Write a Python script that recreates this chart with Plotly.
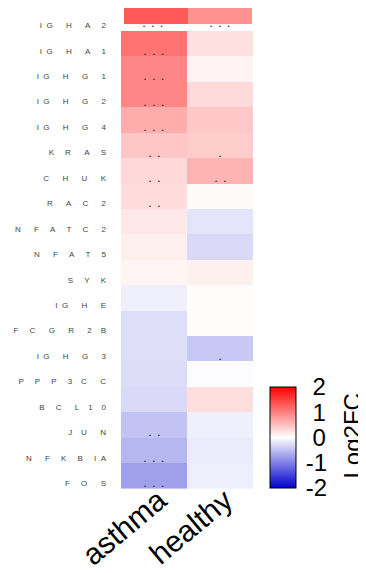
import plotly.graph_objects as go

# page is offset by the default 8px body margin; figure spans the rest
OFF = 8
W, H = 366 - OFF, 573 - OFF

genes = ["IGHA2", "IGHA1", "IGHG1", "IGHG2", "IGHG4", "KRAS", "CHUK", "RAC2",
         "NFATC2", "NFAT5", "SYK", "IGHE", "FCGR2B", "IGHG3", "PPP3CC", "BCL10",
         "JUN", "NFKBIA", "FOS"]
groups = ["asthma", "healthy"]

asthma_lfc = [1.3, 1.1, 0.95, 0.95, 0.65, 0.45, 0.3, 0.28, 0.18, 0.12, 0.08,
              -0.12, -0.26, -0.26, -0.27, -0.29, -0.47, -0.57, -0.75]
healthy_lfc = [0.86, 0.24, 0.1, 0.29, 0.43, 0.4, 0.59, 0.04, -0.21, -0.29, 0.12,
               0.02, 0.02, -0.43, -0.02, 0.26, -0.12, -0.16, -0.13]
asthma_sig = ["***", "***", "***", "***", "***", "**", "**", "**", "", "", "",
              "", "", "", "", "", "**", "***", "***"]
healthy_sig = ["***", "", "", "", "", "*", "**", "", "", "", "",
               "", "", "*", "", "", "", "", ""]

cb_ticks = [2, 1, 0, -1, -2]
cb_title = "Log2FC"

colorscale = [[0.0, "#0000CD"], [0.5, "#FFFFFF"], [1.0, "#FF0000"]]

# letter-spaced labels (glyph advance widths of Arial, em units)
adv = {"I": 0.278, "G": 0.778, "H": 0.722, "A": 0.667, "K": 0.667, "R": 0.722,
       "S": 0.667, "C": 0.722, "U": 0.722, "N": 0.722, "F": 0.611, "T": 0.611,
       "Y": 0.667, "E": 0.667, "B": 0.667, "P": 0.667, "L": 0.556, "O": 0.778,
       "J": 0.5}
def spaced(name):
    out = ""
    for i, ch in enumerate(name):
        out += ch
        if i < len(name) - 1:
            a = adv.get(ch, 0.556)
            n = max(1, round(a * 17.5 / 2.22))
            out += "\u00a0" * n
    return out

def px_x(p):
    return (p - OFF) / W

def px_y(p):
    return min(1.0, max(0.0, 1 - (p - OFF) / H))

row_h = (489 - 31) / 18.0
top_main = 489 - 19 * row_h
cut = max(0.0, (OFF - top_main) / row_h)
n = len(genes)

z_main = []
for i in range(n):
    if i == 0:
        z_main.append([None, None])
    else:
        z_main.append([asthma_lfc[i], healthy_lfc[i]])

CB_L, CB_R, CB_T, CB_B = 270, 296, 387, 488
FONT = "Liberation Sans, Arial"

fig = go.Figure()
fig.add_trace(go.Heatmap(
    z=z_main, x=groups, y=genes, zmin=-2, zmax=2, colorscale=colorscale,
    xgap=0, ygap=0, hoverinfo="skip",
    colorbar=dict(
        x=px_x(CB_L), xanchor="left", xpad=0,
        y=px_y(CB_B), yanchor="bottom", ypad=0,
        thickness=CB_R - CB_L, thicknessmode="pixels",
        len=CB_B - CB_T, lenmode="pixels",
        outlinecolor="black", outlinewidth=1,
        tickvals=cb_ticks, ticktext=[("\u00a0" if t >= 0 else "") + str(t) for t in cb_ticks],
        ticks="outside", ticklen=5, tickcolor="rgba(0,0,0,0)",
        tickfont=dict(family=FONT, size=24, color="black"),
    ),
))
# first row (rendered slightly offset as in the original)
fig.add_trace(go.Heatmap(
    z=[[asthma_lfc[0], healthy_lfc[0]]], x=groups, y=[genes[0]], zmin=-2, zmax=2,
    colorscale=colorscale, showscale=False, xaxis="x2", yaxis="y2", hoverinfo="skip",
))

annotations = []
for i, g in enumerate(genes):
    for j, sig in enumerate([asthma_sig[i], healthy_sig[i]]):
        if not sig:
            continue
        txt = ("\u00a0" * 4).join(["\u2022"] * len(sig))
        if i == 0:
            xr, yr = "x2", "y2"
        else:
            xr, yr = "x", "y"
        annotations.append(dict(
            x=groups[j], y=g, xref=xr, yref=yr, text=txt, showarrow=False,
            yshift=-10, xshift=(-3 if (i == 0 and j == 0) else 0),
            font=dict(family=FONT, size=6, color="#333333"),
        ))

# colour bar title
annotations.append(dict(
    x=px_x(352), y=px_y((CB_T + CB_B) / 2.0 - 1), xref="paper", yref="paper",
    xanchor="center", yanchor="middle", text=cb_title, textangle=-90,
    showarrow=False, font=dict(family=FONT, size=24, color="black"),
))

# inner tick marks on both sides of the colour bar
shapes = []
for t in cb_ticks[1:-1]:
    yp = CB_T + (2 - t) / 4.0 * (CB_B - CB_T)
    for x0, x1 in [(CB_L, CB_L + 6), (CB_R - 6, CB_R)]:
        shapes.append(dict(type="line", xref="paper", yref="paper",
                           x0=px_x(x0), x1=px_x(x1), y0=px_y(yp), y1=px_y(yp),
                           line=dict(color="#333333", width=1.2)))

fig.update_layout(
    width=W, height=H, autosize=False,
    margin=dict(l=0, r=0, t=0, b=0),
    paper_bgcolor="white", plot_bgcolor="white",
    xaxis=dict(domain=[px_x(121), px_x(253)], showgrid=False, zeroline=False,
               showline=False, ticks="", tickangle=-40, automargin=False,
               ticklabelshift=5, ticklabelstandoff=-13,
               tickfont=dict(family=FONT, size=30, color="black")),
    yaxis=dict(domain=[px_y(489), px_y(top_main)], range=[n - 0.5, -0.5 + cut],
               showgrid=False, zeroline=False, showline=False, ticks="",
               automargin=False, tickvals=genes, ticktext=[spaced(g) for g in genes],
               ticklabelshift=-7, ticklabelstandoff=14,
               tickfont=dict(family=FONT, size=8, color="#444444")),
    xaxis2=dict(domain=[px_x(124), px_x(252)], anchor="y2", visible=False),
    yaxis2=dict(domain=[px_y(31), px_y(7)], anchor="x2", visible=False),
    annotations=annotations,
    shapes=shapes,
)

fig.write_html("out.html")
